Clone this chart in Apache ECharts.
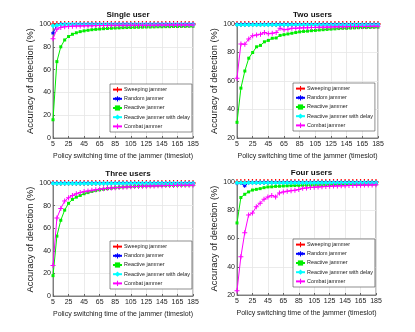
<!DOCTYPE html>
<html>
<head>
<meta charset="utf-8">
<script src="https://cdn.jsdelivr.net/npm/echarts@6.0.0/dist/echarts.min.js"></script>
<style>
  html, body { margin: 0; padding: 0; background: #fff; }
  #chart { width: 415px; height: 332px; }
</style>
</head>
<body>
<div id="chart"></div>
<script>
// policy switching time (timeslot)
var xSlots = [5, 10, 15, 20, 25, 30, 35, 40, 45, 50, 55, 60, 65, 70, 75, 80, 85, 90, 95, 100,
  105, 110, 115, 120, 125, 130, 135, 140, 145, 150, 155, 160, 165, 170, 175, 180, 185];

var seriesNames = ["Sweeping jammer", "Random jammer", "Reactive jammer", "Reactive jammer with delay", "Combat jammer"];
var panelTitles = ["Single user", "Two users", "Three users", "Four users"];

var sweep = [100, 100, 100, 100, 100, 100, 100, 100, 100, 100, 100, 100, 100, 100, 100, 100, 100, 100, 100,
  100, 100, 100, 100, 100, 100, 100, 100, 100, 100, 100, 100, 100, 100, 100, 100, 100, 100];

// single user
var random1 = [92, 99, 100, 100, 100, 100, 100, 100, 100, 100, 100, 100, 100, 100, 100, 100, 100, 100, 100,
  100, 100, 100, 100, 100, 100, 100, 100, 100, 100, 100, 100, 100, 100, 100, 100, 100, 100];
var delay1 = [98.5, 99, 99.3, 99.5, 99.5, 99.5, 99.5, 99.5, 99.5, 99.5, 99.5, 99.5, 99.5, 99.5, 99.5, 99.5, 99.5, 99.5, 99.5,
  99.5, 99.5, 99.5, 99.5, 99.5, 99.5, 99.5, 99.5, 99.5, 99.5, 99.5, 99.5, 99.5, 99.5, 99.5, 99.5, 99.5, 99.5];
var reactive1 = [16, 67, 80, 86, 89, 91, 92.3, 93.3, 94, 94.5, 95, 95.3, 95.6, 95.9, 96.1, 96.3, 96.5, 96.6, 96.8,
  96.9, 97, 97.1, 97.2, 97.3, 97.4, 97.4, 97.5, 97.6, 97.6, 97.7, 97.7, 97.8, 97.8, 97.9, 97.9, 98, 98];
var combat1 = [87, 95.5, 97, 97.5, 97.8, 98, 98.2, 98.3, 98.4, 98.5, 98.5, 98.6, 98.6, 98.7, 98.7, 98.8, 98.8, 98.8, 98.9,
  98.9, 98.9, 99, 99, 99, 99, 99, 99, 99.1, 99.1, 99.1, 99.1, 99.2, 99.2, 99.2, 99.2, 99.2, 99.2];

// two users
var random2 = [99.7, 99.7, 99.7, 99.7, 99.7, 99.7, 99.7, 99.7, 99.7, 99.7, 99.7, 99.7, 99.7, 99.7, 99.7, 99.7, 99.7, 99.7, 99.7,
  99.7, 99.7, 99.7, 99.7, 99.7, 99.7, 99.7, 99.7, 99.7, 99.7, 99.7, 99.7, 99.7, 99.7, 99.7, 99.7, 99.7, 99.7];
var delay2 = [99.4, 99.4, 99.4, 99.4, 99.4, 99.4, 99.4, 99.4, 99.4, 99.4, 99.4, 99.4, 99.4, 99.4, 99.4, 99.4, 99.4, 99.4, 99.4,
  99.4, 99.4, 99.4, 99.4, 99.4, 99.4, 99.4, 99.4, 99.4, 99.4, 99.4, 99.4, 99.4, 99.4, 99.4, 99.4, 99.4, 99.4];
var reactive2 = [31, 55, 67, 76, 80, 84, 85, 87.5, 88.5, 90, 90.2, 92, 92.5, 93, 93.5, 94, 94.5, 94.8, 95,
  95.3, 95.5, 95.8, 96, 96.2, 96.4, 96.6, 96.8, 97, 97, 97.2, 97.3, 97.4, 97.5, 97.5, 97.6, 97.7, 97.8];
var combat2 = [62, 86, 85.8, 89.5, 91.8, 92.3, 92.8, 94, 93.2, 93.5, 94, 97, 96, 96.3, 97, 97, 97.2, 97.3, 97.4,
  97.5, 97.6, 97.7, 97.8, 97.8, 97.9, 98, 98, 98.1, 98.1, 98.2, 98.2, 98.3, 98.3, 98.3, 98.4, 98.4, 98.5];

// three users
var random3 = [99.9, 99.9, 99.9, 99.9, 99.9, 99.9, 99.9, 99.9, 99.9, 99.9, 99.9, 99.9, 99.9, 99.9, 99.9, 99.9, 99.9, 99.9, 99.9,
  99.9, 99.9, 99.9, 99.9, 99.9, 99.9, 99.9, 99.9, 99.9, 99.9, 99.9, 99.9, 99.9, 99.9, 99.9, 99.9, 99.9, 99.9];
var delay3 = [99.5, 99.5, 99.5, 99.5, 99.5, 99.5, 99.5, 99.5, 99.5, 99.5, 99.5, 99.5, 99.5, 99.5, 99.5, 99.5, 99.5, 99.5, 99.5,
  99.5, 99.5, 99.5, 99.5, 99.5, 99.5, 99.5, 99.5, 99.5, 99.5, 99.5, 99.5, 99.5, 99.5, 99.5, 99.5, 99.5, 99.5];
var reactive3 = [18, 53, 67, 76, 82, 85.5, 87.5, 89, 90.5, 91.5, 92.5, 93.3, 94, 94.5, 95, 95.4, 95.8, 96.1, 96.4,
  96.6, 96.8, 97, 97.2, 97.3, 97.4, 97.5, 97.6, 97.7, 97.8, 97.9, 98, 98, 98.1, 98.1, 98.2, 98.2, 98.3];
var combat3 = [27, 69, 77.5, 84, 87, 89, 90.5, 91.5, 92.5, 93, 93.5, 94, 94.5, 95, 95.3, 95.6, 95.9, 96.1, 96.3,
  96.5, 96.7, 96.8, 97, 97.1, 97.2, 97.3, 97.4, 97.5, 97.6, 97.7, 97.8, 97.8, 97.9, 97.9, 98, 98, 98.1];

// four users
var random4 = [99.2, 99.3, 97.2, 99.6, 99.6, 99.6, 99.6, 99.6, 99.6, 99.6, 99.6, 99.6, 99.6, 99.6, 99.6, 99.6, 99.6, 99.6, 99.6,
  99.6, 99.6, 99.6, 99.6, 99.6, 99.6, 99.6, 99.6, 99.6, 99.6, 99.6, 99.6, 99.6, 99.6, 99.6, 99.6, 99.6, 99.6];
var delay4 = [99.4, 99.4, 99.4, 99.4, 99.4, 99.4, 99.4, 99.4, 99.4, 99.4, 99.4, 99.4, 99.4, 99.4, 99.4, 99.4, 99.4, 99.4, 99.4,
  99.4, 99.4, 99.4, 99.4, 99.4, 99.4, 99.4, 99.4, 99.4, 99.4, 99.4, 99.4, 99.4, 99.4, 99.4, 99.4, 99.4, 99.4];
var reactive4 = [71, 89, 91.3, 93, 94.3, 94.8, 95.3, 96, 96.5, 96.6, 96.9, 97, 97.2, 97.3, 97.4, 97.5, 97.6, 97.7, 97.8,
  97.8, 97.9, 97.9, 98, 98, 98.1, 98.1, 98.2, 98.2, 98.2, 98.3, 98.3, 98.3, 98.4, 98.4, 98.4, 98.5, 98.5];
var combat4 = [23, 47, 64, 76.6, 78, 82.5, 85, 87.7, 89.3, 90.5, 89.3, 92.3, 93, 93.5, 93.8, 94.2, 94.7, 95.5, 95.8,
  96.1, 96.3, 96.5, 96.7, 96.9, 97, 97.1, 97.2, 97.3, 97.4, 97.5, 97.6, 97.7, 97.7, 97.8, 97.9, 97.9, 98];

var yMins = [0, 20, 0, 20];

var font = "'Liberation Sans', Arial, sans-serif";
var plus = "path://M2,0H3V2H5V3H3V5H2V3H0V2H2Z";
var star = "path://M2,0H3V1.6L4.4,0.8L4.9,1.6L3.5,2.5L4.9,3.4L4.4,4.2L3,3.4V5H2V3.4L0.6,4.2L0.1,3.4L1.5,2.5L0.1,1.6L0.6,0.8L2,1.6Z";

// layout of the 4 panels
var grids = [
  {left: 53, top: 24, width: 140, height: 114},
  {left: 237, top: 24, width: 141, height: 114},
  {left: 53, top: 183, width: 140, height: 113},
  {left: 237, top: 182, width: 139, height: 113},
];
var legendPos = [
  {left: 110, top: 84},
  {left: 293, top: 83},
  {left: 110, top: 241},
  {left: 293, top: 239},
];

var styles = [
  {color: "#ff0000", symbol: plus, size: 6},
  {color: "#0000ff", symbol: star, size: 4},
  {color: "#00ee00", symbol: "rect", size: 3},
  {color: "#00ffff", symbol: "diamond", size: 5},
  {color: "#ff00ff", symbol: plus, size: 5},
];

var panelData = [
  [sweep, random1, reactive1, delay1, combat1],
  [sweep, random2, reactive2, delay2, combat2],
  [sweep, random3, reactive3, delay3, combat3],
  [sweep, random4, reactive4, delay4, combat4],
];

var option = {
  animation: false,
  backgroundColor: "#fff",
  textStyle: {fontFamily: font},
  title: [],
  grid: [],
  xAxis: [],
  yAxis: [],
  legend: [],
  series: [],
};

grids.forEach(function (g, i) {
  option.grid.push({
    left: g.left, top: g.top, width: g.width, height: g.height,
    show: true, borderColor: "#666", borderWidth: 0.8, backgroundColor: "#fff",
  });
  option.title.push({
    text: panelTitles[i],
    left: g.left + g.width / 2,
    top: g.top - 18,
    textAlign: "center",
    textStyle: {fontSize: 8, fontWeight: "bold", color: "#111", fontFamily: font},
  });
  option.xAxis.push({
    type: "category",
    gridIndex: i,
    data: xSlots,
    boundaryGap: false,
    name: "Policy switching time of the jammer (timeslot)",
    nameLocation: "middle",
    nameGap: 15,
    nameTextStyle: {fontSize: 7, color: "#222", fontFamily: font},
    axisLine: {lineStyle: {color: "#666", width: 0.8}},
    axisTick: {inside: true, interval: 3, length: 2, lineStyle: {color: "#666"}},
    axisLabel: {interval: 3, fontSize: 7, color: "#222", margin: 3, fontFamily: font},
    splitLine: {show: true, interval: 3, lineStyle: {color: "#e6e6e6", width: 0.8}},
  });
  option.yAxis.push({
    type: "value",
    gridIndex: i,
    min: yMins[i],
    max: 100,
    interval: 20,
    name: "Accuracy of detection (%)",
    nameLocation: "middle",
    nameGap: i % 2 === 0 ? 12 : 15,
    nameTextStyle: {fontSize: 9.3, color: "#222", fontFamily: font},
    axisLine: {show: true, lineStyle: {color: "#666", width: 0.8}},
    axisTick: {show: true, inside: true, length: 2, lineStyle: {color: "#666"}},
    axisLabel: {fontSize: 7, color: "#222", margin: 2, fontFamily: font},
    splitLine: {show: true, lineStyle: {color: "#e6e6e6", width: 0.8}},
  });
  option.legend.push({
    left: legendPos[i].left,
    top: legendPos[i].top,
    orient: "vertical",
    data: seriesNames,
    backgroundColor: "#fff",
    borderColor: "#444",
    borderWidth: 0.6,
    borderRadius: 0,
    padding: [3, 2, 3, 2],
    itemGap: 4,
    itemWidth: 9,
    itemHeight: 6.5,
    textStyle: {fontSize: 5.4, color: "#222", fontFamily: font, padding: [0, 0, 0, -3]},
  });
  styles.forEach(function (st, k) {
    option.series.push({
      name: seriesNames[k],
      type: "line",
      xAxisIndex: i,
      yAxisIndex: i,
      data: panelData[i][k],
      symbol: st.symbol,
      symbolSize: st.size,
      showSymbol: true,
      showAllSymbol: true,
      lineStyle: {color: st.color, width: 1},
      itemStyle: {color: st.color},
      z: 2 + k,
    });
  });
});

var myChart = echarts.init(document.getElementById("chart"));
myChart.setOption(option);
</script>
</body>
</html>
